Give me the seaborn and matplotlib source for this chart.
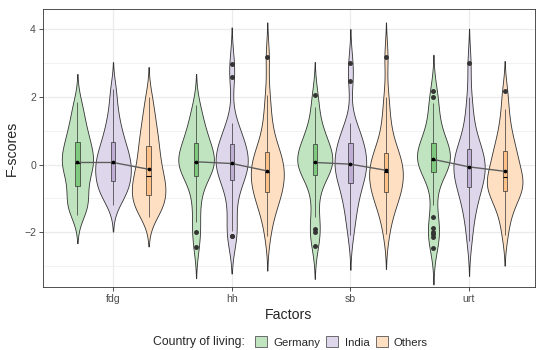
import numpy as np
import pandas as pd
import matplotlib
matplotlib.use("Agg")
import matplotlib.pyplot as plt
from matplotlib.patches import Patch
from matplotlib.ticker import MultipleLocator
import seaborn as sns

factors = ["fdg", "hh", "sb", "urt"]
countries = ["Germany", "India", "Others"]

fdg_germany = [-1.50, -1.34, -1.22, -1.12, -1.00, -0.82, -0.63, -0.48, -0.34, -0.20, -0.08, 0.00, 0.05,
               0.14, 0.24, 0.34, 0.45, 0.56, 0.67, 0.80, 0.95, 1.12, 1.32, 1.56, 1.85]
fdg_india = [-1.20, -1.00, -0.86, -0.76, -0.67, -0.58, -0.50, -0.40, -0.30, -0.20, -0.11, -0.04, 0.03,
             0.12, 0.22, 0.32, 0.43, 0.54, 0.65, 0.81, 0.98, 1.18, 1.42, 1.78, 2.24]
fdg_others = [-1.54, -1.40, -1.29, -1.19, -1.09, -1.00, -0.91, -0.81, -0.71, -0.61, -0.52, -0.43, -0.34,
              -0.20, -0.06, 0.09, 0.24, 0.39, 0.54, 0.72, 0.90, 1.10, 1.33, 1.62, 2.00]
hh_germany = [-2.44, -1.98, -1.70, -1.20, -0.85, -0.57, -0.34, -0.25, -0.17, -0.09, -0.02, 0.03, 0.07,
              0.15, 0.24, 0.33, 0.43, 0.52, 0.62, 0.74, 0.88, 1.04, 1.22, 1.46, 1.76]
hh_india = [-2.12, -2.10, -1.95, -1.45, -1.05, -0.72, -0.46, -0.36, -0.26, -0.17, -0.09, -0.03, 0.02,
            0.10, 0.19, 0.29, 0.39, 0.49, 0.60, 0.72, 0.85, 1.00, 1.21, 2.59, 2.95]
hh_others = [-2.10, -1.62, -1.36, -1.17, -1.02, -0.90, -0.80, -0.69, -0.59, -0.49, -0.39, -0.30, -0.21,
             -0.11, -0.01, 0.09, 0.18, 0.27, 0.37, 0.55, 0.78, 1.08, 1.50, 2.05, 3.16]
sb_germany = [-2.40, -1.98, -1.91, -1.55, -1.00, -0.62, -0.32, -0.23, -0.15, -0.08, -0.02, 0.02, 0.06,
              0.14, 0.23, 0.32, 0.41, 0.50, 0.60, 0.72, 0.86, 1.02, 1.25, 1.70, 2.05]
sb_india = [-2.09, -1.65, -1.35, -1.12, -0.92, -0.72, -0.54, -0.43, -0.33, -0.24, -0.15, -0.07, 0.01,
            0.10, 0.20, 0.30, 0.40, 0.51, 0.62, 0.74, 0.87, 1.02, 1.21, 2.47, 2.98]
sb_others = [-2.06, -1.60, -1.34, -1.15, -1.00, -0.89, -0.80, -0.69, -0.59, -0.49, -0.40, -0.31, -0.22,
             -0.12, -0.03, 0.07, 0.16, 0.25, 0.35, 0.53, 0.76, 1.06, 1.48, 2.00, 3.17]
urt_germany = [-2.47, -2.14, -2.05, -2.00, -1.88, -1.54, -1.20, -0.60, -0.23,
               -0.17, -0.11, -0.06, -0.01, 0.04, 0.08, 0.11, 0.14,
               0.20, 0.26, 0.33, 0.40, 0.47, 0.54, 0.58, 0.62,
               0.75, 0.90, 1.08, 1.30, 1.55, 1.80, 1.98, 2.17]
urt_india = [-2.26, -1.75, -1.42, -1.18, -0.98, -0.81, -0.66, -0.55, -0.45, -0.35, -0.26, -0.17, -0.08,
             0.02, 0.11, 0.20, 0.29, 0.38, 0.47, 0.64, 0.85, 1.12, 1.50, 2.00, 2.98]
urt_others = [-2.09, -1.62, -1.35, -1.15, -1.00, -0.88, -0.77, -0.70, -0.63, -0.56, -0.49, -0.43, -0.36,
              -0.22, -0.09, 0.04, 0.16, 0.28, 0.39, 0.55, 0.74, 0.96, 1.25, 1.65, 2.16]

# group means (black dots joined by the grey line)
means_fdg = [0.06, 0.06, -0.14]
means_hh = [0.08, 0.03, -0.19]
means_sb = [0.06, 0.01, -0.17]
means_urt = [0.15, -0.07, -0.20]

samples = {
    ("fdg", "Germany"): fdg_germany, ("fdg", "India"): fdg_india, ("fdg", "Others"): fdg_others,
    ("hh", "Germany"): hh_germany, ("hh", "India"): hh_india, ("hh", "Others"): hh_others,
    ("sb", "Germany"): sb_germany, ("sb", "India"): sb_india, ("sb", "Others"): sb_others,
    ("urt", "Germany"): urt_germany, ("urt", "India"): urt_india, ("urt", "Others"): urt_others,
}
df = pd.DataFrame([(f, c, v) for (f, c), vals in samples.items() for v in vals],
                  columns=["factor", "country", "score"])
means = [means_fdg, means_hh, means_sb, means_urt]

colors = ["#7FC97F", "#BEAED4", "#FDC086"]
light = ["#BFE4BF", "#DED6EA", "#FEDFC2"]

sns.set_style("white")
plt.rcParams["font.family"] = ["Liberation Sans", "DejaVu Sans"]

fig = plt.figure(figsize=(5.36, 3.5), dpi=100)
ax = fig.add_axes([0.0802, 0.18, 0.918, 0.794])

sns.violinplot(data=df, x="factor", y="score", hue="country", order=factors, hue_order=countries,
               palette=light, saturation=1, width=0.9, cut=2.2, bw_method=0.4, gridsize=200,
               inner=None, linewidth=0.6, linecolor="#333333", density_norm="area",
               legend=False, ax=ax)
sns.boxplot(data=df, x="factor", y="score", hue="country", order=factors, hue_order=countries,
            palette=colors, saturation=1, width=0.9, gap=0.88, linewidth=0.5, linecolor="#333333",
            fliersize=2.5, flierprops=dict(marker="o", markerfacecolor="#333333", markeredgecolor="#333333"),
            medianprops=dict(color="black", linewidth=0.8), showcaps=False, legend=False, ax=ax)

dodge = 0.9 / len(countries)
offsets = (np.arange(len(countries)) - 1) * dodge
for i, m in enumerate(means):
    xs = i + offsets
    ax.plot(xs, m, color="#5E5E5E", lw=1.0, zorder=5)
    ax.scatter(xs, m, s=7, color="black", zorder=6, linewidths=0)

ax.set_xlim(-0.59, 3.556)
ax.set_ylim(-3.61, 4.58)
ax.yaxis.set_major_locator(MultipleLocator(2))
ax.yaxis.set_minor_locator(MultipleLocator(1))
ax.set_axisbelow(True)
ax.grid(which="major", color="#EBEBEB", lw=0.9)
ax.grid(which="minor", axis="y", color="#EBEBEB", lw=0.45)
ax.tick_params(which="minor", length=0)
ax.tick_params(axis="both", which="major", bottom=True, left=True, length=3, width=0.6,
               color="#333333", labelsize=7.6, labelcolor="#4D4D4D", pad=2)
for s in ax.spines.values():
    s.set_visible(True)
    s.set_color("#333333")
    s.set_linewidth(0.6)

ax.set_xlabel("Factors", fontsize=10.2, labelpad=3)
ax.set_ylabel("F-scores", fontsize=10.2, labelpad=4)

fig.text(153 / 536, 1 - 342 / 350, "Country of living:", fontsize=8.8, va="center", ha="left")
handles = [Patch(facecolor=light[i], edgecolor="#555555", lw=0.6) for i in range(len(countries))]
fig.legend(handles, countries, loc="center left", bbox_to_anchor=(255 / 536, 1 - 342 / 350), ncol=3,
           frameon=False, fontsize=8.2, handlelength=1.05, handleheight=1.05, handletextpad=0.55,
           columnspacing=0.55, borderpad=0, borderaxespad=0)

fig.savefig("out.png", dpi=100)
